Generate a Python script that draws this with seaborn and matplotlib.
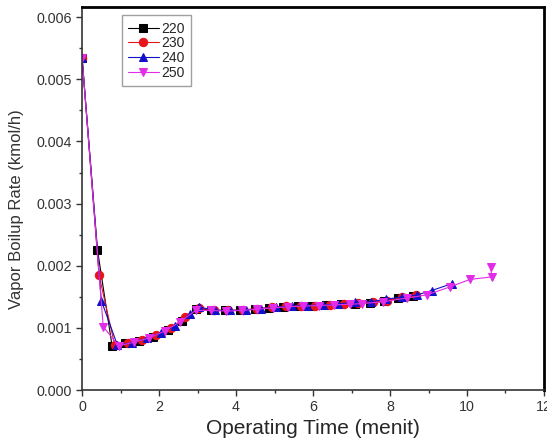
import matplotlib
matplotlib.use("Agg")
import matplotlib.pyplot as plt
from matplotlib.ticker import MultipleLocator, FormatStrFormatter
import seaborn as sns
import pandas as pd

# ---- data ----
labels = ["220", "230", "240", "250"]

x220 = [0, 0.40, 0.78, 1.12, 1.48, 1.85, 2.22, 2.60, 2.97, 3.35, 3.72, 4.10, 4.48, 4.85,
        5.22, 5.60, 5.97, 6.35, 6.72, 7.10, 7.47, 7.85, 8.22, 8.60]
y220 = [0.00535, 0.00226, 0.00071, 0.00075, 0.00079, 0.00086, 0.00097, 0.00111, 0.00131,
        0.00129, 0.00128, 0.00128, 0.00130, 0.00132, 0.00134, 0.00135, 0.00136, 0.00137,
        0.00138, 0.00139, 0.00140, 0.00143, 0.00148, 0.00152]

x230 = [0, 0.44, 0.85, 1.20, 1.56, 1.93, 2.30, 2.67, 3.05, 3.42, 3.80, 4.18, 4.55, 4.93,
        5.30, 5.68, 6.05, 6.43, 6.80, 7.18, 7.55, 7.93, 8.30, 8.68]
y230 = [0.00535, 0.00185, 0.00072, 0.00075, 0.00081, 0.00088, 0.00099, 0.00117, 0.00132,
        0.00128, 0.00128, 0.00129, 0.00131, 0.00133, 0.00135, 0.00136, 0.00136, 0.00137,
        0.00138, 0.00140, 0.00141, 0.00144, 0.00149, 0.00153]

x240 = [0, 0.50, 0.92, 1.30, 1.68, 2.05, 2.42, 2.80, 3.03, 3.45, 3.85, 4.25, 4.65, 5.05,
        5.45, 5.85, 6.25, 6.65, 7.08, 7.50, 7.90, 8.32, 8.70, 9.08, 9.60]
y240 = [0.00535, 0.00144, 0.00072, 0.00076, 0.00083, 0.00092, 0.00103, 0.00122, 0.00134,
        0.00128, 0.00128, 0.00129, 0.00131, 0.00133, 0.00135, 0.00136, 0.00137, 0.00138,
        0.00142, 0.00142, 0.00146, 0.00150, 0.00153, 0.00160, 0.00171]

x250 = [0, 0.55, 0.95, 1.35, 1.75, 2.15, 2.55, 2.95, 3.35, 3.75, 4.15, 4.55, 4.95, 5.35,
        5.75, 6.15, 6.55, 6.95, 7.26, 7.82, 8.43, 8.95, 9.56, 10.08, 10.64, 10.62]
y250 = [0.00535, 0.00102, 0.00071, 0.00077, 0.00084, 0.00095, 0.00110, 0.00128, 0.00128,
        0.00127, 0.00128, 0.00130, 0.00132, 0.00134, 0.00135, 0.00136, 0.00137, 0.00138,
        0.00139, 0.00142, 0.00148, 0.00153, 0.00166, 0.00178, 0.00182, 0.00198]

xs = [x220, x230, x240, x250]
ys = [y220, y230, y240, y250]
colors = ["#000000", "#e8141b", "#1010c8", "#e22ce8"]
markers = ["s", "o", "^", "v"]

sns.set_style("ticks")
plt.rcParams["font.family"] = ["Liberation Sans", "DejaVu Sans"]

fig = plt.figure(figsize=(5.47, 4.40), dpi=100)
ax = fig.add_axes([0.150, 0.1136, 0.8445, 0.870])

for lab, x, y, c, m in zip(labels, xs, ys, colors, markers):
    df = pd.DataFrame({"t": x, "v": y})
    sns.lineplot(data=df, x="t", y="v", ax=ax, color=c, marker=m, markersize=6,
                 markeredgecolor=c, linewidth=0.8, estimator=None, sort=False,
                 label=lab)

ax.set_xlim(0, 12)
ax.set_ylim(0, 0.00616)
ax.xaxis.set_major_locator(MultipleLocator(2))
ax.xaxis.set_minor_locator(MultipleLocator(1))
ax.yaxis.set_major_locator(MultipleLocator(0.001))
ax.yaxis.set_minor_locator(MultipleLocator(0.0005))
ax.yaxis.set_major_formatter(FormatStrFormatter("%.3f"))

ax.tick_params(axis="both", which="major", direction="out", length=4, width=1,
               labelsize=10.3, labelcolor="#333333", color="#333333", pad=3)
ax.tick_params(axis="both", which="minor", direction="out", length=2.5, width=1,
               color="#333333")

for side in ["top", "right"]:
    ax.spines[side].set_linewidth(2)
    ax.spines[side].set_color("black")
for side in ["left", "bottom"]:
    ax.spines[side].set_linewidth(1.2)
    ax.spines[side].set_color("#333333")

ax.set_xlabel("Operating Time (menit)", fontsize=15, labelpad=4)
ax.set_ylabel("Vapor Boilup Rate (kmol/h)", fontsize=12, color="#333333")
ax.yaxis.set_label_coords(-0.126, 0.473)

leg = ax.legend(loc="upper left", bbox_to_anchor=(0.086, 0.979), fontsize=10,
                frameon=True, fancybox=False, handlelength=2.2, handletextpad=0.2,
                borderpad=0.45, labelspacing=0.05, borderaxespad=0)
leg.get_frame().set_edgecolor("#888888")
leg.get_frame().set_linewidth(1.0)

fig.savefig("out.png", dpi=100)
